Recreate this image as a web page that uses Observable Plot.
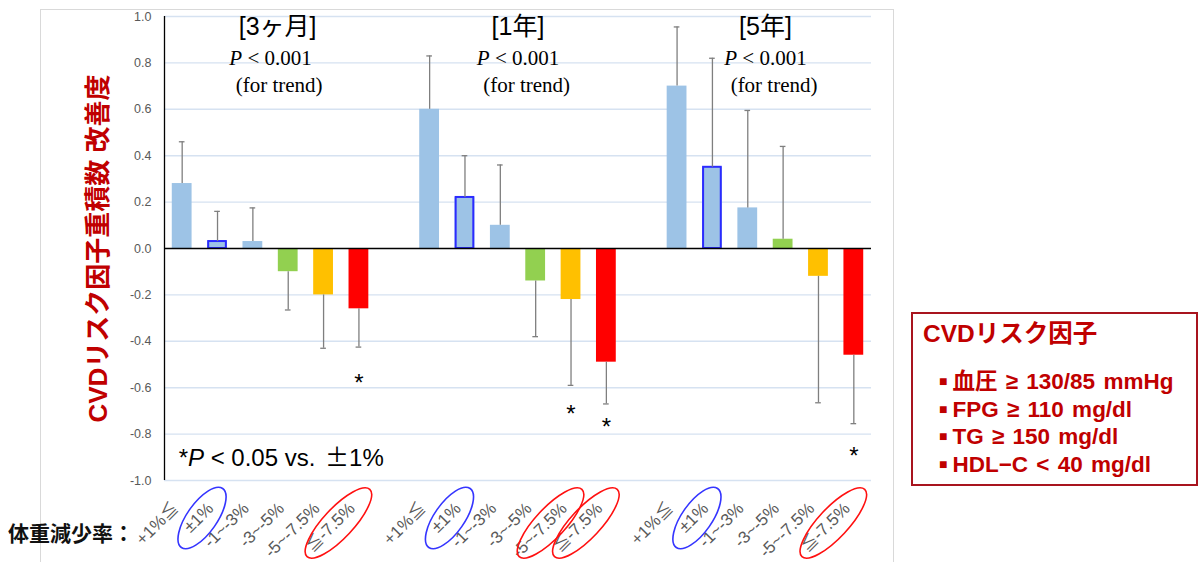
<!DOCTYPE html>
<html><head><meta charset="utf-8">
<script src="https://cdn.jsdelivr.net/npm/d3@7"></script>
<script src="https://cdn.jsdelivr.net/npm/@observablehq/plot@0.6"></script>
<style>
body{margin:0;background:#fff;}
#wrap{position:relative;width:1199px;height:562px;overflow:hidden;font-family:"Liberation Sans",Arial,"Noto Sans CJK JP",sans-serif;}
#frame{position:absolute;left:40px;top:9px;width:854px;height:600px;border:1px solid #D9D9D9;box-sizing:border-box;}
#chart{position:absolute;left:0;top:0;}
#xname{position:absolute;left:8px;top:518px;font-size:21px;font-weight:bold;color:#111;font-family:"Noto Sans CJK JP",sans-serif;line-height:28px;white-space:nowrap;}
#legend{position:absolute;left:911px;top:312px;width:287px;height:174px;border:2px solid #A8141E;box-sizing:border-box;color:#C00000;font-family:"Liberation Sans","Noto Sans CJK JP",sans-serif;font-weight:bold;}
#legend div{position:absolute;white-space:nowrap;line-height:28px;}
#legend .lt{left:10px;top:6px;font-size:24.5px;}
#legend .li{left:26px;font-size:22.5px;word-spacing:2px;}
#legend .b{font-size:14px;vertical-align:3px;margin-right:5px;}
</style></head>
<body><div id="wrap"><div id="frame"></div><div id="chart"></div>
<div id="xname">体重減少率：</div>
<div id="legend">
<div class="lt">CVDリスク因子</div>
<div class="li" style="top:53px"><span class="b">■</span>血圧 ≥ 130/85 mmHg</div>
<div class="li" style="top:81px"><span class="b">■</span>FPG ≥ 110 mg/dl</div>
<div class="li" style="top:108px"><span class="b">■</span>TG ≥ 150 mg/dl</div>
<div class="li" style="top:136px"><span class="b">■</span>HDL−C &lt; 40 mg/dl</div>
</div>
</div>
<script>
const periods = ["[3ヶ月]", "[1年]", "[5年]"];
const categories = ["+1%≦", "±1%", "-1~-3%", "-3~-5%", "-5~-7.5%", "≦-7.5%"];
const means3m = [0.28, 0.03, 0.03, -0.10, -0.20, -0.26];
const errEnd3m = [0.46, 0.16, 0.175, -0.265, -0.43, -0.425];
const means1y = [0.60, 0.22, 0.10, -0.14, -0.22, -0.49];
const errEnd1y = [0.83, 0.40, 0.36, -0.38, -0.59, -0.67];
const means5y = [0.70, 0.35, 0.175, 0.04, -0.12, -0.46];
const errEnd5y = [0.955, 0.82, 0.595, 0.44, -0.665, -0.755];
const yTicks = [-1.0, -0.8, -0.6, -0.4, -0.2, 0.0, 0.2, 0.4, 0.6, 0.8, 1.0];
const catColors = ["#9DC3E6", "#9DC3E6", "#9DC3E6", "#92D050", "#FFC000", "#FF0000"];
const pText = "P < 0.001";
const trendText = " (for trend)";
const noteText = "*P < 0.05 vs. ±1%";
const yLabel = "CVDリスク因子重積数 改善度";
// significance asterisks: period index, category index, y value
const sigPeriod = [0, 1, 1, 2];
const sigCat = [5, 4, 5, 5];
const sigY = [-0.555, -0.69, -0.745, -0.87];
// circled tick labels
const circPeriod = [0, 0, 1, 1, 1, 2, 2];
const circCat = [1, 5, 1, 4, 5, 1, 5];

const allMeans = [means3m, means1y, means5y];
const allErr = [errEnd3m, errEnd1y, errEnd5y];
const slotsPerGroup = categories.length + 1;
const rows = periods.flatMap((p, g) => categories.map((c, j) => ({
  g, j, cat: c, slot: g * slotsPerGroup + j,
  mean: allMeans[g][j], err: allErr[g][j], color: catColors[j]
})));
const nSlots = periods.length * slotsPerGroup - 1;
const groupCenter = g => g * slotsPerGroup + categories.length / 2;
const sig = sigY.map((y, i) => ({x: sigPeriod[i] * slotsPerGroup + sigCat[i] + 0.5, y}));
const circ = circPeriod.map((g, i) => ({g, j: circCat[i]}));

const sans = "'Liberation Sans', Arial, 'Noto Sans CJK JP', sans-serif";
const serif = "'Liberation Serif', 'Times New Roman', serif";

function ellipses(index, scales, values, dimensions) {
  const x = scales.x;
  const yBase = dimensions.height - dimensions.marginBottom;
  const g = d3.create("svg:g");
  for (const c of circ) {
    const blue = c.j === 1;
    const cx = x(c.g * slotsPerGroup + c.j + 0.5) + (blue ? -15 : -20);
    const cy = yBase + (blue ? 38 : 43);
    g.append("ellipse")
      .attr("transform", `translate(${cx},${cy}) rotate(${blue ? -55 : -47})`)
      .attr("rx", blue ? 36 : 46).attr("ry", 15)
      .attr("fill", "none").attr("stroke", blue ? "#3535FF" : "#FF1010").attr("stroke-width", 1.6);
  }
  return g.node();
}

const plot = Plot.plot({
  width: 1199, height: 562,
  marginLeft: 164, marginRight: 328, marginTop: 16, marginBottom: 82,
  x: {domain: [0, nSlots], axis: null},
  y: {domain: [-1, 1], axis: null},
  color: {type: "identity"},
  style: {background: "transparent", fontFamily: sans, overflow: "visible"},
  marks: [
    Plot.ruleY(yTicks.filter(d => d !== 0), {x1: 0, x2: nSlots, stroke: "#D6E2F1", strokeWidth: 1.4}),
    Plot.rectY(rows, {x1: d => d.slot + 0.22, x2: d => d.slot + 0.78, y1: 0, y2: "mean", fill: "color"}),
    Plot.rectY(rows.filter(d => d.j === 1), {x1: d => d.slot + 0.22 + 0.03, x2: d => d.slot + 0.78 - 0.03, y1: 0, y2: "mean", fill: "color", stroke: "#2B2BFF", strokeWidth: 2}),
    Plot.ruleX(rows, {x: d => d.slot + 0.5, y1: "mean", y2: "err", stroke: "#7F7F7F", strokeWidth: 1.3}),
    Plot.ruleY(rows, {y: "err", x1: d => d.slot + 0.5 - 0.08, x2: d => d.slot + 0.5 + 0.08, stroke: "#7F7F7F", strokeWidth: 1.3}),
    Plot.ruleY([0], {x1: 0, x2: nSlots, stroke: "#000", strokeWidth: 1.3}),
    Plot.ruleX([0], {y1: -1, y2: 1, stroke: "#000", strokeWidth: 1.3}),
    Plot.text(yTicks, {x: 0, y: d => d, text: d => d.toFixed(1), textAnchor: "end", dx: -13, fill: "#595959", fontSize: 12.5}),
    Plot.text(rows, {x: d => d.slot + 0.5, frameAnchor: "bottom", text: "cat", rotate: -45, textAnchor: "end", dx: -3, dy: 29, fill: "#595959", fontSize: 17}),
    Plot.text(periods, {x: (d, i) => groupCenter(i) + (i === 0 ? 0.2 : 0), y: 0.955, text: d => d, fontSize: 25, fill: "#000", fontFamily: sans}),
    Plot.text(periods, {x: (d, i) => groupCenter(i), y: 0.82, text: () => pText, fontSize: 21, fill: "#000", fontFamily: serif, textAnchor: "middle"}),
    Plot.text(periods, {x: (d, i) => groupCenter(i), y: 0.705, text: () => trendText, fontSize: 21, fill: "#000", fontFamily: serif, textAnchor: "middle", dx: 6}),
    Plot.text(sig, {x: "x", y: "y", text: () => "*", fontSize: 24, fill: "#000", dy: 6}),
    Plot.text([noteText], {x: 0.4, y: -0.905, text: d => d, textAnchor: "start", fontSize: 24, fill: "#000"}),
    Plot.text([yLabel], {frameAnchor: "left", y: 0, text: d => d, rotate: -90, textAnchor: "middle", dx: -66, fontSize: 26, fontWeight: "bold", fill: "#C00000", fontFamily: "'Liberation Sans', 'Noto Sans CJK JP', sans-serif"}),
    ellipses
  ]
});
// italic P in p-value texts, wide ± in the note
d3.select(plot).selectAll("text").each(function() {
  const t = this.textContent;
  const m = t.match(/^(\*?)P( < [^±]*)(±?)(.*)$/);
  if (m) {
    this.textContent = "";
    const s = d3.select(this);
    if (m[1]) s.append("tspan").text(m[1]);
    s.append("tspan").attr("font-style", "italic").text("P");
    s.append("tspan").text(m[2]);
    if (m[3]) {
      s.append("tspan").attr("dx", 3).attr("font-family", "'Noto Sans CJK JP', sans-serif").text(m[3]);
      s.append("tspan").text(m[4]);
    }
  }
});
document.getElementById("chart").appendChild(plot);
</script>
</body></html>
